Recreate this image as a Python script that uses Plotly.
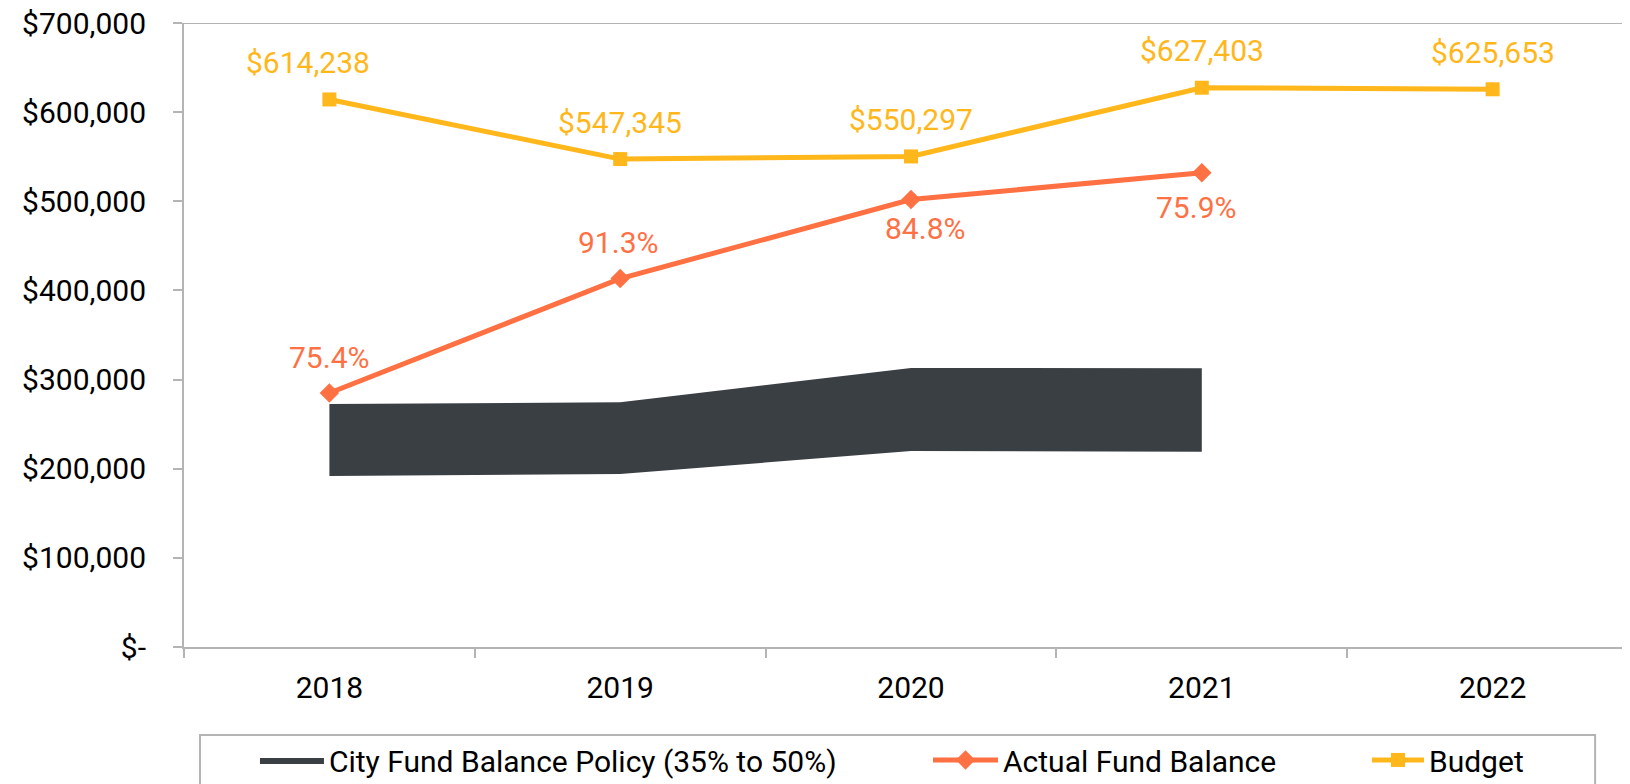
import plotly.graph_objects as go

years = [2018, 2019, 2020, 2021, 2022]

budget = [614238, 547345, 550297, 627403, 625653]
budget_text = ["$614,238", "$547,345", "$550,297", "$627,403", "$625,653"]

actual_years = [2018, 2019, 2020, 2021]
actual = [284900, 413300, 501900, 532100]
actual_text = ["75.4%", "91.3%", "84.8%", "75.9%"]

policy_low = [191800, 194000, 219900, 219100]   # 35%
policy_high = [272600, 274500, 313000, 312600]  # 50%

y_ticks = [0, 100000, 200000, 300000, 400000, 500000, 600000, 700000]
y_ticktext = ["$-", "$100,000", "$200,000", "$300,000", "$400,000",
              "$500,000", "$600,000", "$700,000"]

BAND = "#3a3f44"
ACTUAL = "#ff7043"
BUDGET = "#ffb71b"
AXIS = "#b4b4b4"
FONT = "Roboto"
FS = 30

fig = go.Figure()

# policy range band (35% to 50%)
fig.add_trace(go.Scatter(x=actual_years, y=policy_low, mode="lines",
                         line=dict(width=0, color=BAND), showlegend=False,
                         hoverinfo="skip"))
fig.add_trace(go.Scatter(x=actual_years, y=policy_high, mode="lines",
                         fill="tonexty", fillcolor=BAND,
                         line=dict(width=0, color=BAND),
                         name="City Fund Balance Policy (35% to 50%)",
                         legend="legend"))

fig.add_trace(go.Scatter(x=actual_years, y=actual, mode="lines+markers",
                         line=dict(color=ACTUAL, width=5),
                         marker=dict(symbol="diamond", size=15, color=ACTUAL),
                         name="Actual Fund Balance", legend="legend2"))

fig.add_trace(go.Scatter(x=years, y=budget, mode="lines+markers",
                         line=dict(color=BUDGET, width=5),
                         marker=dict(symbol="square", size=14, color=BUDGET),
                         name="Budget", legend="legend3"))

# data labels
b_xshift = [-21, 0, 0, 0, 0]
for yr, v, t, dx in zip(years, budget, budget_text, b_xshift):
    fig.add_annotation(x=yr, y=v, xref="x", yref="y", text=t, showarrow=False,
                       yshift=37, xshift=dx,
                       font=dict(family=FONT, size=FS, color=BUDGET))

a_yshift = [36, 36, -29, -35]
a_xshift = [0, -2, 14, -6]
for yr, v, t, dy, dx in zip(actual_years, actual, actual_text, a_yshift, a_xshift):
    fig.add_annotation(x=yr, y=v, xref="x", yref="y", text=t, showarrow=False,
                       yshift=dy, xshift=dx,
                       font=dict(family=FONT, size=FS, color=ACTUAL))

# top border line at $700,000
fig.add_shape(type="line", xref="paper", yref="y", x0=-0.0062, x1=1, y0=700000, y1=700000,
              line=dict(color=AXIS, width=2))

# legend frame
fig.add_shape(type="rect", xref="paper", yref="paper", x0=0.011, x1=0.9705,
              y0=-0.30, y1=-0.141, line=dict(color=AXIS, width=2), fillcolor="white",
              layer="below")

leg = dict(orientation="h", yanchor="middle", y=-0.181, xanchor="left",
           bgcolor="rgba(0,0,0,0)", font=dict(family=FONT, size=FS, color="black"))

fig.update_layout(
    width=1630, height=784,
    margin=dict(l=176, r=0, t=15, b=145, autoexpand=False),
    plot_bgcolor="white", paper_bgcolor="white",
    font=dict(family=FONT, size=FS, color="black"),
    legend=dict(leg, x=0.0488, itemwidth=64),
    legend2=dict(leg, x=0.5117, itemwidth=65),
    legend3=dict(leg, x=0.8136, itemwidth=52),
    xaxis=dict(range=[2017.5, 2022.5], tickvals=years, ticks="",
               minor=dict(tick0=2017.5, dtick=1, ticks="outside", ticklen=9,
                          tickcolor=AXIS, tickwidth=2, showgrid=False),
               showline=True, linecolor=AXIS, linewidth=2,
               showgrid=False, zeroline=False, automargin=False,
               ticklabelstandoff=13, ticklabeloverflow="allow",
               tickfont=dict(family=FONT, size=FS, color="black")),
    yaxis=dict(range=[0, 700000], tickvals=y_ticks, ticktext=y_ticktext,
               showline=True, linecolor=AXIS, linewidth=2, ticks="outside",
               ticklen=9, tickcolor=AXIS, tickwidth=2, showgrid=False,
               zeroline=False, ticklabelstandoff=21, automargin=False,
               ticklabeloverflow="allow",
               tickfont=dict(family=FONT, size=FS, color="black")),
)

fig.write_html("out.html")
